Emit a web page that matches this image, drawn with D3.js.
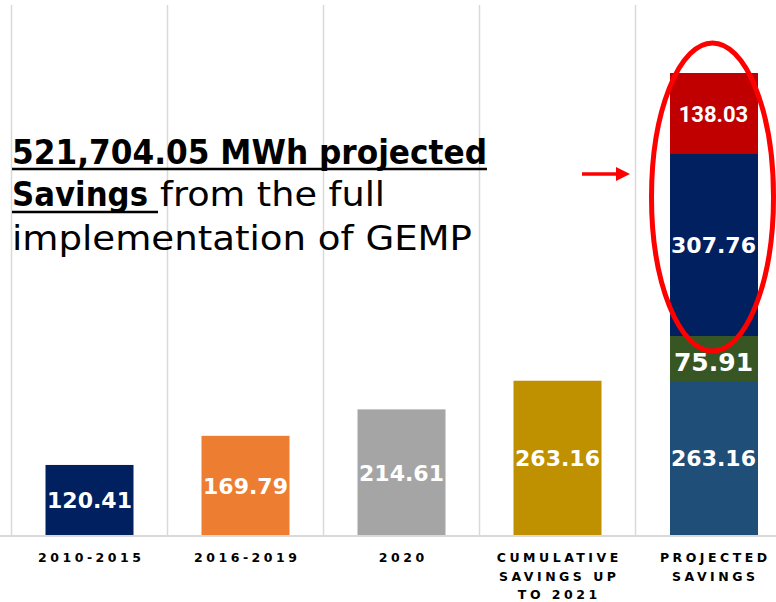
<!DOCTYPE html>
<html>
<head>
<meta charset="utf-8">
<script src="https://cdn.jsdelivr.net/npm/d3@7"></script>
<style>
  html, body { margin: 0; padding: 0; background: #fff; }
  svg { display: block; }
</style>
</head>
<body>
<div id="chart"></div>
<script>
// categories and values (thousand MWh)
var categories = ["2010-2015", "2016-2019", "2020", "CUMULATIVE SAVINGS UP TO 2021", "PROJECTED SAVINGS"];
var categoryLines = [["2010-2015"], ["2016-2019"], ["2020"], ["CUMULATIVE", "SAVINGS UP", "TO 2021"], ["PROJECTED", "SAVINGS"]];
var singleValues = [120.41, 169.79, 214.61, 263.16];
var singleColors = ["#002060", "#ED7D31", "#A5A5A5", "#BF9000"];
var projectedKeys = ["base", "stepA", "stepB", "stepC"];
var projectedValues = [263.16, 75.91, 307.76, 138.03];
var projectedColors = ["#1F4E79", "#375623", "#002060", "#C00000"];

var width = 776, height = 602;
var plotLeft = 11.5, plotBottom = 536, plotTop = 5;

var svg = d3.select("#chart").append("svg")
    .attr("width", width)
    .attr("height", height);

var x = d3.scaleBand()
    .domain(categories)
    .range([plotLeft, plotLeft + 156 * categories.length])
    .padding(0);

var y = d3.scaleLinear()
    .domain([0, 900])
    .range([plotBottom, plotTop]);

var barWidth = 88;
var barOffset = (x.bandwidth() - barWidth) / 2;

// vertical gridlines at category edges
svg.append("g")
    .selectAll("line")
    .data(categories)
    .enter().append("line")
    .attr("x1", function(d) { return x(d); })
    .attr("x2", function(d) { return x(d); })
    .attr("y1", plotTop)
    .attr("y2", plotBottom)
    .attr("stroke", "#d9d9d9")
    .attr("stroke-width", 1.5);

// single bars
var single = categories.slice(0, 4).map(function(c, i) {
    return { cat: c, value: singleValues[i], color: singleColors[i] };
});

svg.append("g")
    .selectAll("rect")
    .data(single)
    .enter().append("rect")
    .attr("x", function(d) { return x(d.cat) + barOffset; })
    .attr("y", function(d) { return y(d.value); })
    .attr("width", barWidth)
    .attr("height", function(d) { return y(0) - y(d.value); })
    .attr("fill", function(d) { return d.color; });

var valueFont = "'DejaVu Sans', sans-serif";

svg.append("g")
    .selectAll("text")
    .data(single)
    .enter().append("text")
    .attr("x", function(d) { return x(d.cat) + x.bandwidth() / 2; })
    .attr("y", function(d) { return (y(d.value) + y(0)) / 2 + 8; })
    .attr("text-anchor", "middle")
    .attr("font-family", valueFont)
    .attr("font-weight", "bold")
    .attr("font-size", 22)
    .attr("fill", "#fff")
    .text(function(d) { return d.value.toFixed(2); });

// projected stacked bar
var projRow = {};
projectedKeys.forEach(function(k, i) { projRow[k] = projectedValues[i]; });
var stacked = d3.stack().keys(projectedKeys)([projRow]);
var projCat = categories[4];

var seg = svg.append("g")
    .selectAll("g")
    .data(stacked)
    .enter().append("g");

seg.append("rect")
    .attr("x", x(projCat) + barOffset)
    .attr("y", function(d) { return y(d[0][1]); })
    .attr("width", barWidth)
    .attr("height", function(d) { return y(d[0][0]) - y(d[0][1]); })
    .attr("shape-rendering", "crispEdges")
    .attr("fill", function(d, i) { return projectedColors[i]; });

seg.append("text")
    .attr("x", x(projCat) + x.bandwidth() / 2)
    .attr("y", function(d, i) { return (y(d[0][0]) + y(d[0][1])) / 2 + 8 + (i === 1 ? 5 : 0); })
    .attr("text-anchor", "middle")
    .attr("font-family", function(d, i) { return i === 3 ? "Roboto, sans-serif" : valueFont; })
    .attr("font-weight", "bold")
    .attr("font-size", function(d, i) { return i === 1 ? 25 : 22; })
    .attr("fill", "#fff")
    .text(function(d, i) { return projectedValues[i].toFixed(2); });

// x axis
var axis = svg.append("g")
    .attr("transform", "translate(0," + plotBottom + ")")
    .call(d3.axisBottom(x).tickSize(0).tickFormat(""));

axis.select(".domain")
    .attr("stroke", "#d9d9d9")
    .attr("stroke-width", 2)
    .attr("d", "M0,0H" + width);

axis.selectAll(".tick text").remove();
axis.selectAll(".tick")
    .append("text")
    .attr("fill", "#000")
    .attr("font-family", "'DejaVu Sans', sans-serif")
    .attr("font-weight", "bold")
    .attr("font-size", 12.5)
    .attr("letter-spacing", 3.5)
    .attr("text-anchor", "middle")
    .selectAll("tspan")
    .data(function(d) { return categoryLines[categories.indexOf(d)]; })
    .enter().append("tspan")
    .attr("x", 1.75)
    .attr("y", function(d, i) { return 26 + i * 18.5; })
    .text(function(d) { return d; });

// annotation text
var note = svg.append("g")
    .attr("font-family", "'DejaVu Sans', sans-serif")
    .attr("font-size", 33)
    .attr("fill", "#000");

note.append("text")
    .attr("x", 12).attr("y", 164)
    .attr("font-weight", "bold")
    .attr("textLength", 475)
    .attr("lengthAdjust", "spacingAndGlyphs")
    .text("521,704.05 MWh projected");

note.append("line")
    .attr("x1", 12).attr("x2", 487)
    .attr("y1", 169).attr("y2", 169)
    .attr("stroke", "#000").attr("stroke-width", 2.5);

note.append("text")
    .attr("x", 12).attr("y", 206)
    .attr("font-weight", "bold")
    .attr("textLength", 136)
    .attr("lengthAdjust", "spacingAndGlyphs")
    .text("Savings");

note.append("line")
    .attr("x1", 12).attr("x2", 158)
    .attr("y1", 212).attr("y2", 212)
    .attr("stroke", "#000").attr("stroke-width", 2.5);

note.append("text")
    .attr("x", 160).attr("y", 206)
    .attr("font-weight", "normal")
    .attr("textLength", 225)
    .attr("lengthAdjust", "spacingAndGlyphs")
    .text("from the full");

note.append("text")
    .attr("x", 12).attr("y", 250)
    .attr("font-weight", "normal")
    .attr("textLength", 460)
    .attr("lengthAdjust", "spacingAndGlyphs")
    .text("implementation of GEMP");

// red arrow
svg.append("line")
    .attr("x1", 582).attr("x2", 618)
    .attr("y1", 174).attr("y2", 174)
    .attr("stroke", "#ff0000").attr("stroke-width", 3.5);
svg.append("path")
    .attr("d", "M616,167L630,174L616,181Z")
    .attr("fill", "#ff0000");

// red ellipse around the new savings
svg.append("ellipse")
    .attr("cx", x(projCat) + x.bandwidth() / 2 - 1)
    .attr("cy", 197)
    .attr("rx", 61)
    .attr("ry", 154)
    .attr("fill", "none")
    .attr("stroke", "#ff0000")
    .attr("stroke-width", 5);
</script>
</body>
</html>
